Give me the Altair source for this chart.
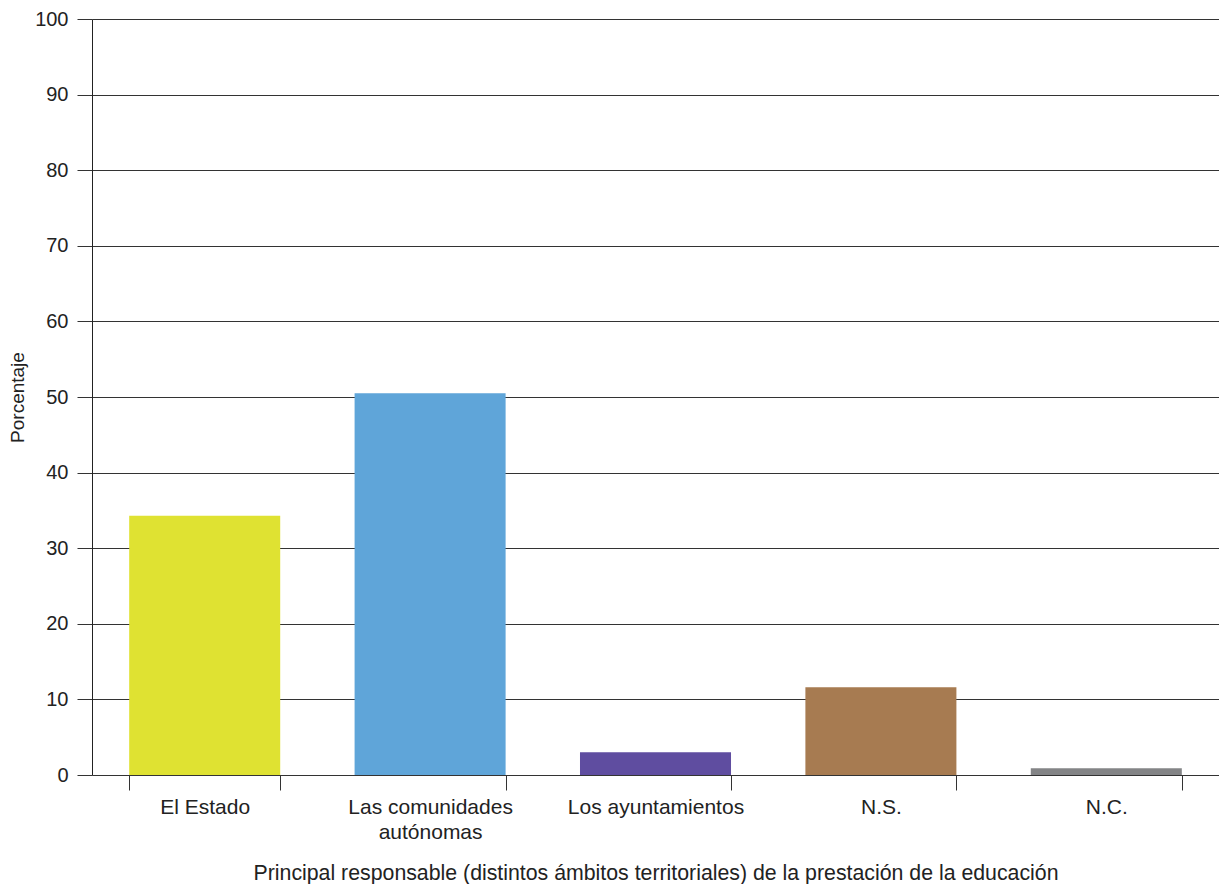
import altair as alt
import pandas as pd

categories = ["El Estado", "Las comunidades\nautónomas", "Los ayuntamientos", "N.S.", "N.C."]
values = [34.3, 50.5, 3.0, 11.6, 0.9]
colors = ["#DFE232", "#5FA5D9", "#5F4DA0", "#A77B51", "#838486"]
y_ticks = [0, 10, 20, 30, 40, 50, 60, 70, 80, 90, 100]

df = pd.DataFrame({"cat": categories, "val": values, "color": colors})

font = "Liberation Sans"

chart = alt.Chart(df).mark_bar().encode(
    x=alt.X("cat:N", sort=categories,
            scale=alt.Scale(paddingInner=0.33, paddingOuter=0.165),
            axis=alt.Axis(title="Principal responsable (distintos ámbitos territoriales) de la prestación de la educación",
                          labelAngle=0, labelFontSize=21, labelFont=font, labelColor="#222",
                          labelExpr="split(datum.label, '\\n')", labelLineHeight=25,
                          tickBand="extent", tickSize=15, tickColor="#333", labelPadding=6,
                          domain=False, titleFontSize=21.3, titleFont=font, titleFontWeight="normal",
                          titleColor="#222", titlePadding=20)),
    y=alt.Y("val:Q", scale=alt.Scale(domain=[0, 100], nice=False),
            axis=alt.Axis(title="Porcentaje", values=y_ticks, labelOverlap=False,
                          labelFontSize=20, labelFont=font, labelColor="#222",
                          tickSize=15, tickColor="#333", labelPadding=9,
                          domainColor="#222", grid=True, gridColor="#333",
                          titleFontSize=19, titleFont=font, titleFontWeight="normal",
                          titleColor="#222", titlePadding=7)),
    color=alt.Color("color:N", scale=None),
).properties(
    width=1127, height=756,
    autosize=alt.AutoSizeParams(type="none"),
    padding={"left": 84, "top": 11, "right": 0, "bottom": 109},
).configure_view(stroke=None)

chart.save("out.html", embed_options={"renderer": "svg", "actions": False})
